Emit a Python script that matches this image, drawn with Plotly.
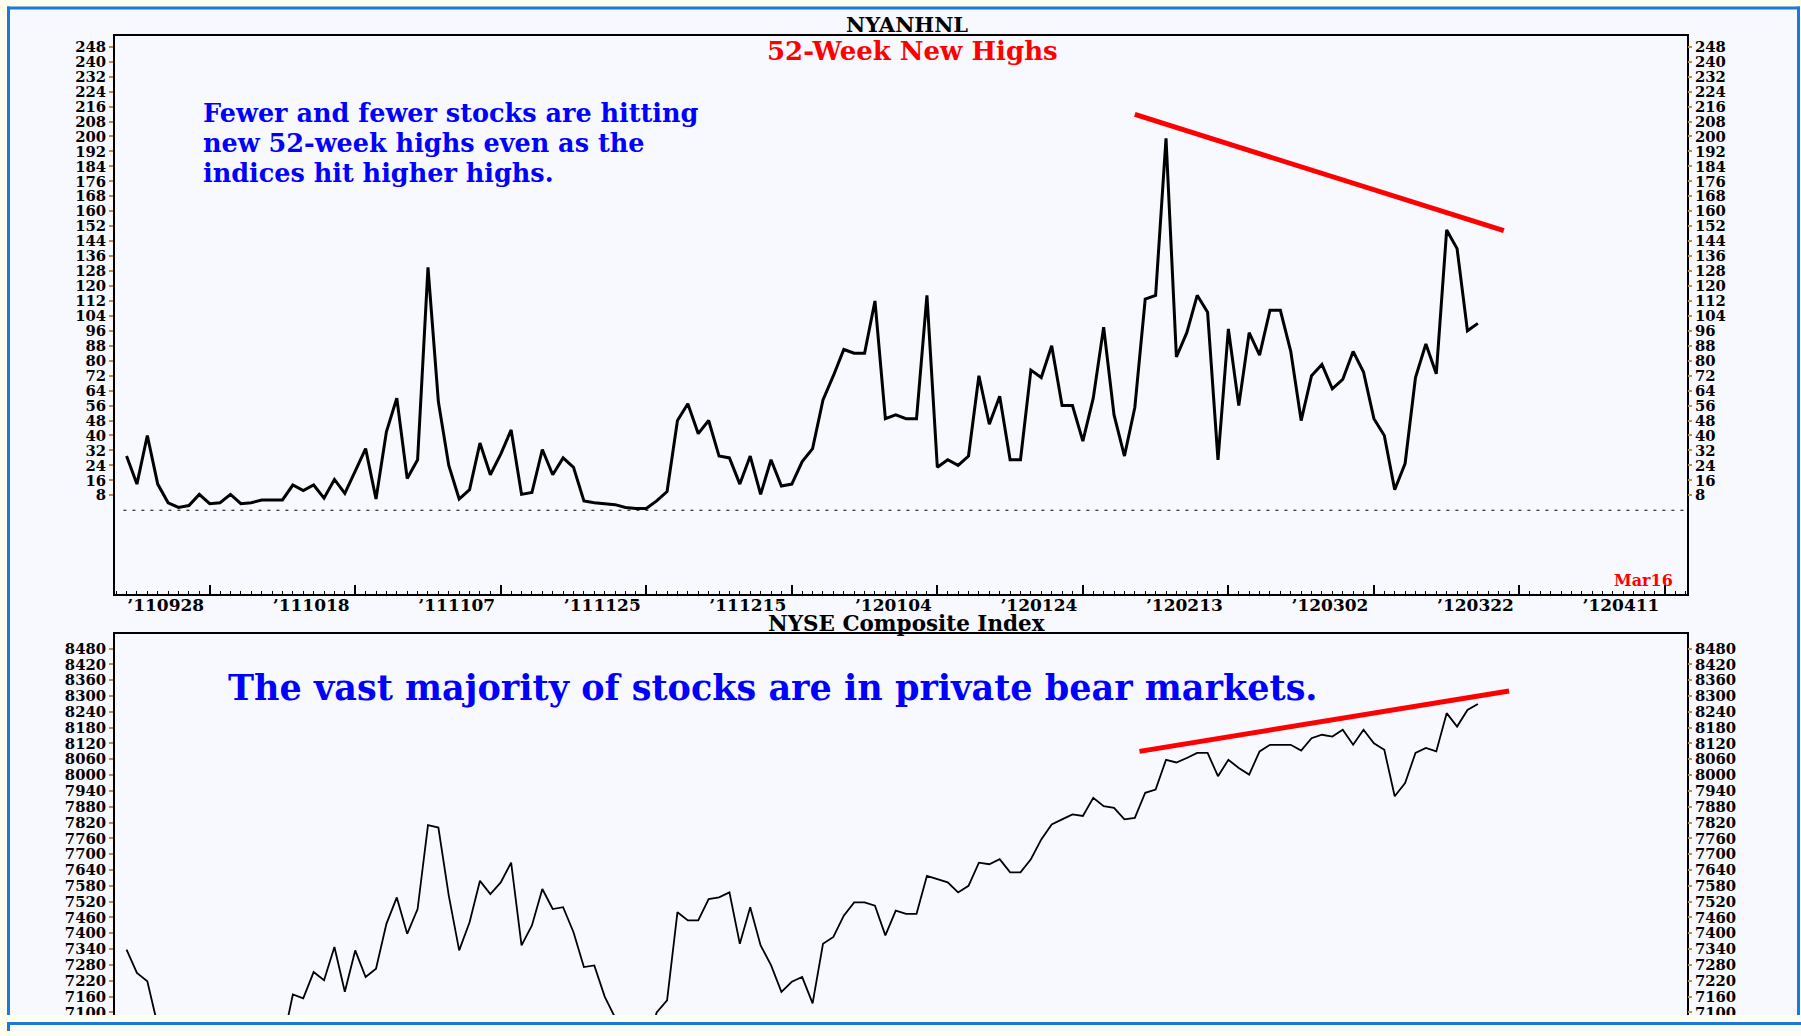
import plotly.graph_objects as go

W, H = 1801, 1036

def px(x):
    return x / W

def py(y):
    return 1 - y / H

# ---------------- data ----------------
day_index = list(range(-8, 123))  # trading days relative to 2011-09-28

new_highs = [
    29, 14, 40, 14, 4, 1.5, 2.5, 8.5,            # -8..-1
    3.5, 4, 8.5, 3.5, 4, 5.5, 5.5, 5.5, 13.5, 10.5,  # 0..9
    13.5, 6.5, 16.5, 9, 21, 33, 6, 42, 60, 17,       # 10..19
    27, 130, 58, 24, 6, 11, 36, 19, 30, 43,          # 20..29
    8.5, 9.5, 32.5, 19, 28, 23, 5, 4, 3.5, 3,        # 30..39
    1.5, 1, 1, 5, 10, 48, 57, 41, 48, 29,            # 40..49
    28, 14, 29, 8.5, 27, 13, 14, 26, 33, 59,         # 50..59
    72, 86, 84, 84, 112, 49, 51, 49, 49, 115,        # 60..69
    23, 27, 24, 29, 72, 46, 61, 27, 27, 75,          # 70..79
    71, 88, 56, 56, 37, 60, 98, 51, 29, 55,          # 80..89
    113, 115, 199, 82, 95, 115, 106, 27, 97, 56,     # 90..99
    95, 83, 107, 107, 85, 48, 72, 78, 65, 70,        # 100..109
    85, 74, 49, 40, 11, 25, 71, 89, 73, 150,         # 110..119
    140, 96, 100,                                    # 120..122
]

nyse = [
    7338, 7250, 7218, 7050, 7000, 6950, 6990, 6880,          # -8..-1
    6920, 6870, 6760, 6700, 6800, 6880, 6920, 6980, 7168, 7153,  # 0..9
    7253, 7222, 7348, 7178, 7335, 7234, 7266, 7436, 7536, 7398,  # 10..19
    7492, 7810, 7801, 7543, 7335, 7442, 7599, 7549, 7593, 7668,  # 20..29
    7354, 7430, 7568, 7492, 7499, 7404, 7272, 7278, 7160, 7080,  # 30..39
    7020, 6990, 6960, 7100, 7146, 7480, 7449, 7449, 7530, 7536,  # 40..49
    7555, 7360, 7499, 7354, 7279, 7178, 7216, 7234, 7134, 7360,  # 50..59
    7386, 7467, 7517, 7517, 7505, 7392, 7486, 7474, 7474, 7618,  # 60..69
    7606, 7593, 7555, 7580, 7668, 7662, 7681, 7631, 7631, 7681,  # 70..79
    7756, 7813, 7832, 7851, 7845, 7914, 7882, 7876, 7832, 7838,  # 80..89
    7933, 7945, 8058, 8048, 8065, 8084, 8084, 7996, 8058, 8027,  # 90..99
    8002, 8090, 8115, 8115, 8115, 8093, 8140, 8153, 8146, 8172,  # 100..109
    8115, 8172, 8121, 8096, 7920, 7970, 8084, 8103, 8090, 8235,  # 110..119
    8184, 8247, 8270,                                            # 120..122
]

tick_days = [0, 14, 28, 42, 56, 70, 84, 98, 112, 126, 140]
tick_labels = ["’110928", "’111018", "’111107", "’111125", "’111215", "’120104",
               "’120124", "’120213", "’120302", "’120322", "’120411"]

top_ticks = list(range(8, 249, 8))
bot_ticks = list(range(7100, 8481, 60))

trend_top_x = [89.0, 124.5]
trend_top_y = [211.8, 149.6]
trend_bot_x = [89.45, 125.0]
trend_bot_y = [8090, 8319]

note_top = ["Fewer and fewer stocks are hitting",
            "new 52-week highs even as the",
            "indices hit higher highs."]
note_bottom = "The vast majority of stocks are in private bear markets."

# ---------------- styling ----------------
SERIF = "DejaVu Serif"
PANEL = "#F8F8FF"
CREAM = "#FFFFF0"
BLUE = "#1E78D7"
TICKC = "#C09040"

XR = [-9.11, 142.12]
TOP_YR = [-44.87, 253.85]
BOT_YR = [7089.8, 8534.35]

fig = go.Figure()

fig.add_trace(go.Scatter(x=day_index, y=new_highs, mode="lines",
                         line=dict(color="black", width=3), xaxis="x", yaxis="y",
                         hoverinfo="skip"))
fig.add_trace(go.Scatter(x=day_index, y=new_highs, mode="lines",
                         line=dict(color="rgba(0,0,0,0)", width=0), xaxis="x", yaxis="y3",
                         hoverinfo="skip"))
fig.add_trace(go.Scatter(x=trend_top_x, y=trend_top_y, mode="lines",
                         line=dict(color="#FF0000", width=5), xaxis="x", yaxis="y",
                         hoverinfo="skip"))

fig.add_trace(go.Scatter(x=day_index, y=nyse, mode="lines",
                         line=dict(color="black", width=1.8), xaxis="x2", yaxis="y2",
                         hoverinfo="skip"))
fig.add_trace(go.Scatter(x=day_index, y=nyse, mode="lines",
                         line=dict(color="rgba(0,0,0,0)", width=0), xaxis="x2", yaxis="y4",
                         hoverinfo="skip"))
fig.add_trace(go.Scatter(x=trend_bot_x, y=trend_bot_y, mode="lines",
                         line=dict(color="#FF0000", width=5), xaxis="x2", yaxis="y2",
                         hoverinfo="skip"))

ytickfont = dict(family=SERIF, size=14.8, color="black", weight="bold")
xtickfont = dict(family=SERIF, size=17, color="black", weight="bold")

top_dom = [py(597), py(36)]
bot_dom = [py(1020), py(637.3)]
x_dom = [px(115), px(1687)]

fig.update_layout(
    width=W, height=H,
    margin=dict(l=0, r=0, t=0, b=0),
    paper_bgcolor=CREAM,
    plot_bgcolor=PANEL,
    showlegend=False,
    xaxis=dict(domain=x_dom, range=XR, anchor="y", showgrid=False, zeroline=False,
               showline=True, linecolor="black", linewidth=2, mirror=True,
               ticks="inside", ticklen=9, tickwidth=1.5, tickcolor="black",
               tickmode="array", tickvals=tick_days, ticktext=tick_labels,
               tickfont=xtickfont, ticklabelshift=-44, ticklabelstandoff=-6,
               minor=dict(ticks="inside", ticklen=3, tickwidth=1, tickcolor="black",
                          tickmode="linear", tick0=0, dtick=1, showgrid=False)),
    yaxis=dict(domain=top_dom, range=TOP_YR, anchor="x", showgrid=False, zeroline=False,
               showline=True, linecolor="black", linewidth=2, mirror=True,
               ticks="outside", ticklen=4, tickwidth=1.5, tickcolor=TICKC,
               tickmode="array", tickvals=top_ticks, tickfont=ytickfont),
    yaxis3=dict(range=TOP_YR, overlaying="y", side="right", anchor="x", showgrid=False,
                zeroline=False, showline=False,
                ticks="outside", ticklen=4, tickwidth=1.5, tickcolor=TICKC,
                tickmode="array", tickvals=top_ticks, tickfont=ytickfont),
    xaxis2=dict(domain=x_dom, range=XR, anchor="y2", side="top", showgrid=False,
                zeroline=False, showline=True, linecolor="black", linewidth=2,
                ticks="", showticklabels=False),
    yaxis2=dict(domain=bot_dom, range=BOT_YR, anchor="x2", showgrid=False, zeroline=False,
                showline=True, linecolor="black", linewidth=2, mirror=True,
                ticks="outside", ticklen=4, tickwidth=1.5, tickcolor=TICKC,
                tickmode="array", tickvals=bot_ticks, tickfont=ytickfont),
    yaxis4=dict(range=BOT_YR, overlaying="y2", side="right", anchor="x2", showgrid=False,
                zeroline=False, showline=False,
                ticks="outside", ticklen=4, tickwidth=1.5, tickcolor=TICKC,
                tickmode="array", tickvals=bot_ticks, tickfont=ytickfont),
)

shapes = [
    # main panel
    dict(type="rect", xref="paper", yref="paper", x0=px(8.5), x1=px(1798.5),
         y0=py(1020), y1=py(8), fillcolor=PANEL, line=dict(width=0), layer="below"),
    dict(type="line", xref="paper", yref="paper", x0=px(8.5), x1=px(8.5),
         y0=py(1020), y1=py(6.5), line=dict(color=BLUE, width=3), layer="below"),
    dict(type="line", xref="paper", yref="paper", x0=px(1798.5), x1=px(1798.5),
         y0=py(1020), y1=py(6.5), line=dict(color=BLUE, width=3), layer="below"),
    dict(type="line", xref="paper", yref="paper", x0=px(7), x1=px(1800),
         y0=py(8), y1=py(8), line=dict(color=BLUE, width=3), layer="below"),
    # zero reference line (dashed)
    dict(type="line", xref="x", yref="y", x0=-8.3, x1=XR[1], y0=0, y1=0,
         line=dict(color="black", width=1, dash="3px,6px"), layer="below"),
    # clipping band at bottom and next window edge
    dict(type="rect", xref="paper", yref="paper", x0=0, x1=1, y0=0, y1=py(1020),
         fillcolor=CREAM, line=dict(width=0), layer="above"),
    dict(type="rect", xref="paper", yref="paper", x0=px(8.5), x1=1, y0=0, y1=py(1028.5),
         fillcolor=PANEL, line=dict(width=0), layer="above"),
    dict(type="line", xref="paper", yref="paper", x0=px(7), x1=1, y0=py(1028.5), y1=py(1028.5),
         line=dict(color=BLUE, width=3), layer="above"),
    dict(type="line", xref="paper", yref="paper", x0=px(8.5), x1=px(8.5), y0=0, y1=py(1027),
         line=dict(color=BLUE, width=3), layer="above"),
]
fig.update_layout(shapes=shapes)

def ann(text, x, y, size, color, xanchor="center", yanchor="middle", align="center"):
    return dict(text=text, x=px(x), y=py(y), xref="paper", yref="paper",
                xanchor=xanchor, yanchor=yanchor, align=align, showarrow=False,
                font=dict(family=SERIF, size=size, color=color, weight="bold"))

# three-line note: base size sets the line spacing (1.3 em), spans set glyph size
LINE_GAP = 30.0
note_top_html = "<br>".join('<span style="font-size:25.5px">%s</span>' % s for s in note_top)

annotations = [
    ann("NYANHNL", 906.5, 25, 21, "black"),
    ann("52-Week New Highs", 912.5, 51.5, 26, "#FF0000"),
    ann(note_top_html, 201, 144, LINE_GAP / 1.3, "#0000FF", xanchor="left", align="left"),
    ann("Mar16", 1675, 583, 16, "#FF0000", xanchor="right"),
    ann("NYSE Composite Index", 906.5, 627, 21.5, "black"),
    ann(note_bottom, 225.8, 690.5, 35, "#0000FF", xanchor="left"),
]
fig.update_layout(annotations=annotations)

fig.write_html("out.html", config={"displayModeBar": False},
               post_script="document.body.style.margin='0';")
